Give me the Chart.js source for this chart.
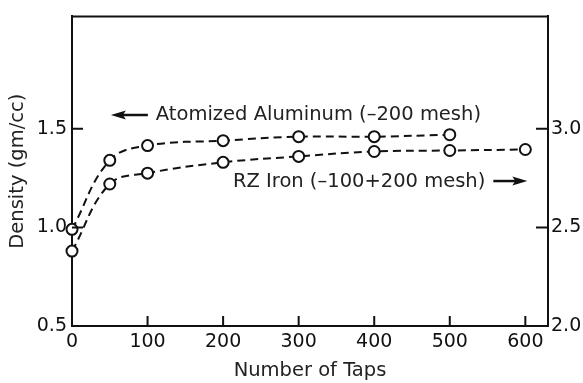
<!DOCTYPE html>
<html>
<head>
<meta charset="utf-8">
<script src="https://cdn.jsdelivr.net/npm/chart.js@4/dist/chart.umd.min.js"></script>
<style>
html,body{margin:0;padding:0;background:#fff;}
#wrap{width:583px;height:383px;position:relative;}
</style>
</head>
<body>
<div id="wrap"><canvas id="c" width="583" height="383"></canvas></div>
<script>
// ---- data ----
const aluminumTaps = [0, 50, 100, 200, 300, 400, 500];
const aluminumDensity = [0.99, 1.34, 1.415, 1.44, 1.46, 1.46, 1.47];
const ironTaps = [0, 50, 100, 200, 300, 400, 500, 600];
const ironDensity = [2.38, 2.72, 2.775, 2.83, 2.86, 2.885, 2.89, 2.895];
const xTickValues = [0, 100, 200, 300, 400, 500, 600];
const leftTickValues = [0.5, 1.0, 1.5];
const rightTickValues = [2.0, 2.5, 3.0];
const xTitle = 'Number of Taps';
const yTitle = 'Density (gm/cc)';
const aluminumLabel = 'Atomized Aluminum (\u2013200 mesh)';
const ironLabel = 'RZ Iron (\u2013100+200 mesh)';

const FONT = '"DejaVu Sans", "Liberation Sans", sans-serif';
const INK = '#111';

const frameAndTicks = {
  id: 'frameAndTicks',
  afterDraw(chart) {
    const ctx = chart.ctx, a = chart.chartArea, s = chart.scales;
    ctx.save();
    ctx.strokeStyle = INK;
    ctx.lineWidth = 2;
    ctx.beginPath(); ctx.moveTo(a.left - 1, a.top); ctx.lineTo(a.right + 1, a.top); ctx.stroke();
    ctx.beginPath();
    xTickValues.forEach(v => { if (v === 0) return; const p = s.x.getPixelForValue(v); ctx.moveTo(p, a.bottom); ctx.lineTo(p, a.bottom - 10); });
    leftTickValues.forEach(v => { const p = s.y.getPixelForValue(v); if (Math.abs(p - a.bottom) < 2) return; ctx.moveTo(a.left, p); ctx.lineTo(a.left + 11, p); });
    rightTickValues.forEach(v => { const p = s.y2.getPixelForValue(v); if (Math.abs(p - a.bottom) < 2) return; ctx.moveTo(a.right, p); ctx.lineTo(a.right - 12, p); });
    ctx.stroke();
    ctx.fillStyle = '#222';
    ctx.font = '19.5px ' + FONT;
    ctx.textBaseline = 'middle';
    ctx.textAlign = 'left';
    const ax = s.x.getPixelForValue(111), ay = s.y.getPixelForValue(1.57);
    ctx.fillText(aluminumLabel, ax, ay);
    const ix = s.x.getPixelForValue(213), iy = s.y.getPixelForValue(1.23);
    ctx.fillText(ironLabel, ix, iy);
    const iw = ctx.measureText(ironLabel).width;
    ctx.fillStyle = INK;
    ctx.lineWidth = 2.5;
    function arrow(x1, x2, y) {
      const dir = Math.sign(x2 - x1);
      ctx.beginPath(); ctx.moveTo(x1, y); ctx.lineTo(x2 - dir * 10, y); ctx.stroke();
      ctx.beginPath(); ctx.moveTo(x2, y); ctx.lineTo(x2 - dir * 15, y - 4.5); ctx.lineTo(x2 - dir * 12, y); ctx.lineTo(x2 - dir * 15, y + 4.5); ctx.closePath(); ctx.fill();
    }
    arrow(ax - 8, ax - 45, ay);
    arrow(ix + iw + 8, ix + iw + 42, iy - 1);
    ctx.restore();
  }
};

const common = {
  borderColor: INK,
  borderWidth: 2,
  borderDash: [8, 5],
  pointRadius: 5.5,
  pointBorderWidth: 2,
  pointBackgroundColor: '#fff',
  pointBorderColor: INK,
  tension: 0.4,
  fill: false,
  clip: false
};

new Chart(document.getElementById('c'), {
  type: 'line',
  data: {
    datasets: [
      Object.assign({ label: aluminumLabel, data: aluminumTaps.map((t, i) => ({ x: t, y: aluminumDensity[i] })), yAxisID: 'y' }, common),
      Object.assign({ label: ironLabel, data: ironTaps.map((t, i) => ({ x: t, y: ironDensity[i] })), yAxisID: 'y2' }, common)
    ]
  },
  options: {
    responsive: false,
    animation: false,
    layout: { padding: { top: 7, left: 0, right: 0, bottom: 0 } },
    plugins: { legend: { display: false }, tooltip: { enabled: false } },
    scales: {
      x: {
        type: 'linear', min: 0, max: 630,
        afterBuildTicks: sc => { sc.ticks = xTickValues.map(v => ({ value: v })); },
        afterFit: sc => { sc.height = 57; },
        grid: { display: false, drawTicks: false },
        border: { display: true, color: INK, width: 2 },
        ticks: { color: INK, font: { family: FONT, size: 19 }, padding: 5, maxRotation: 0, autoSkip: false, callback: v => String(v) },
        title: { display: true, text: xTitle, color: '#222', font: { family: FONT, size: 19.5 }, padding: { top: 1, bottom: 0 } }
      },
      y: {
        type: 'linear', position: 'left', min: 0.5, max: 2.07,
        afterBuildTicks: sc => { sc.ticks = leftTickValues.map(v => ({ value: v })); },
        afterFit: sc => { sc.width = 72; },
        grid: { display: false, drawTicks: false },
        border: { display: true, color: INK, width: 2 },
        ticks: { color: INK, font: { family: FONT, size: 19 }, padding: 5, autoSkip: false, callback: v => Number(v).toFixed(1) },
        title: { display: true, text: yTitle, color: '#222', font: { family: FONT, size: 19.5 }, padding: { top: 6, bottom: 0 } }
      },
      y2: {
        type: 'linear', position: 'right', min: 2.0, max: 3.57,
        afterBuildTicks: sc => { sc.ticks = rightTickValues.map(v => ({ value: v })); },
        afterFit: sc => { sc.width = 35; },
        grid: { display: false, drawTicks: false },
        border: { display: true, color: INK, width: 2 },
        ticks: { color: INK, font: { family: FONT, size: 19 }, padding: 3, autoSkip: false, callback: v => Number(v).toFixed(1) }
      }
    }
  },
  plugins: [frameAndTicks]
});
</script>
</body>
</html>
